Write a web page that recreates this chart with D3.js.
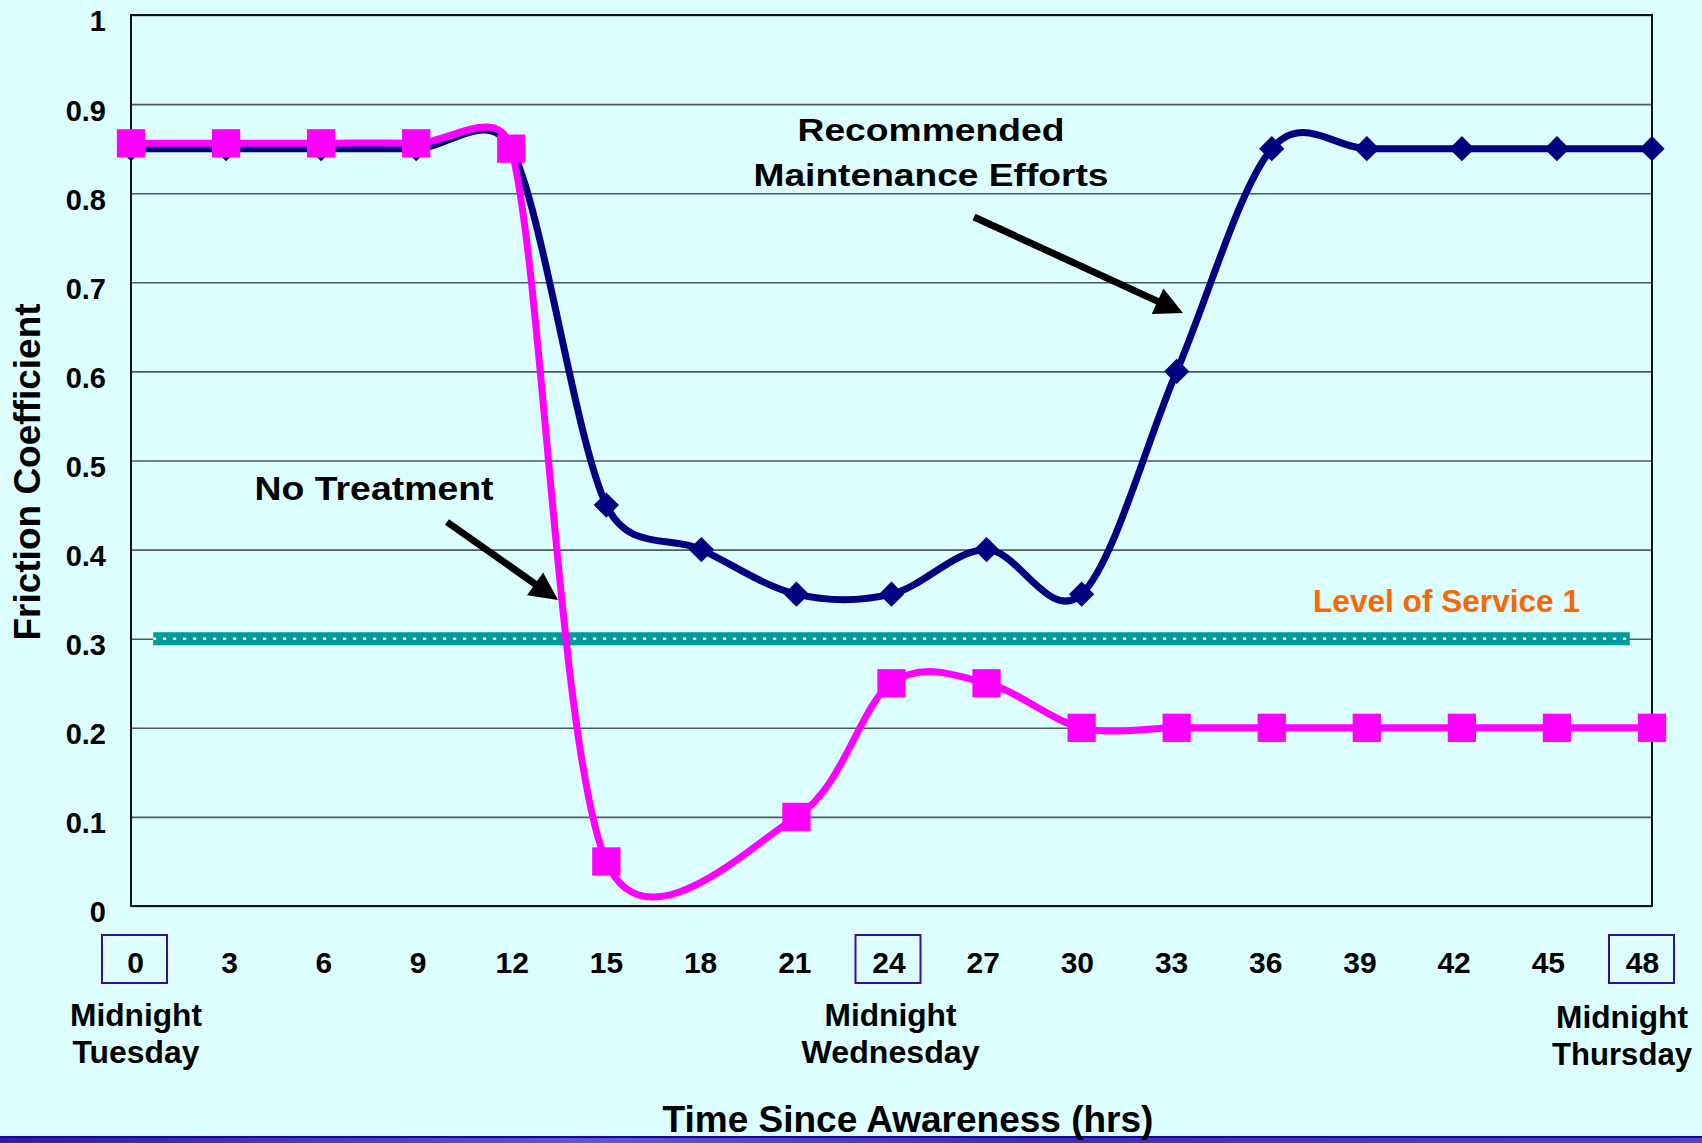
<!DOCTYPE html>
<html>
<head>
<meta charset="utf-8">
<script src="https://cdn.jsdelivr.net/npm/d3@7"></script>
<style>
  body { margin: 0; background: #dcfefe; }
  svg { display: block; font-family: "Liberation Sans", Arial, sans-serif; font-weight: bold; }
</style>
</head>
<body>
<svg id="svg" width="1702" height="1143"></svg>
<script>
/*jshint esversion: 6 */

// hours since awareness, one point every 3 hours
const hours = [0, 3, 6, 9, 12, 15, 18, 21, 24, 27, 30, 33, 36, 39, 42, 45, 48];
// "Recommended Maintenance Efforts"
const recommended = [0.85, 0.85, 0.85, 0.85, 0.85, 0.45, 0.40, 0.35, 0.35, 0.40, 0.35, 0.60, 0.85, 0.85, 0.85, 0.85, 0.85];
// "No Treatment" (no point at 18 h)
const noTreatment = [0.856, 0.856, 0.856, 0.856, 0.85, 0.05, null, 0.10, 0.25, 0.25, 0.20, 0.20, 0.20, 0.20, 0.20, 0.20, 0.20];
const yTicks = [0, 0.1, 0.2, 0.3, 0.4, 0.5, 0.6, 0.7, 0.8, 0.9, 1];
const boxedHours = [0, 24, 48];
const dayNames = ["Tuesday", "Wednesday", "Thursday"];
const serviceLevel = 0.3;
const serviceSpan = [0.7, 47.3];

const width = 1702;
const height = 1143;
const margin = {top: 15, left: 131, bottom: 237, right: 50};

const svg = d3.select("#svg");

const xScale = d3.scaleLinear().domain([0, 48]).range([margin.left, width - margin.right]);
const yScale = d3.scaleLinear().domain([0, 1]).range([height - margin.bottom, margin.top]);
// tick labels sit a touch inside the data positions in the original
const labelX = d3.scaleLinear().domain([0, 48]).range([135, 1642]);

// spreadsheet-style smoothing: bezier with tangents damped on short segments
function curveSmooth(context) {
    let pts;
    return {
        areaStart() {}, areaEnd() {},
        lineStart() { pts = []; },
        point(x, y) { pts.push([+x, +y]); },
        lineEnd() {
            const dist = (a, b) => Math.hypot(a[0] - b[0], a[1] - b[1]);
            context.moveTo(pts[0][0], pts[0][1]);
            for (let i = 0; i < pts.length - 1; i++) {
                const p0 = pts[i - 1] || pts[i], p1 = pts[i], p2 = pts[i + 1], p3 = pts[i + 2] || pts[i + 1];
                const d12 = dist(p1, p2);
                const f1 = Math.min(1 / 6, 0.5 * d12 / (dist(p0, p2) || 1));
                const f2 = Math.min(1 / 6, 0.5 * d12 / (dist(p1, p3) || 1));
                context.bezierCurveTo(
                    p1[0] + f1 * (p2[0] - p0[0]), p1[1] + f1 * (p2[1] - p0[1]),
                    p2[0] - f2 * (p3[0] - p1[0]), p2[1] - f2 * (p3[1] - p1[1]),
                    p2[0], p2[1]);
            }
        }
    };
}

// bottom slide bar
const grad = svg.append("defs").append("linearGradient").attr("id", "bar");
grad.append("stop").attr("offset", "0%").attr("stop-color", "#2c1ea0");
grad.append("stop").attr("offset", "35%").attr("stop-color", "#5a5ad0");
grad.append("stop").attr("offset", "60%").attr("stop-color", "#3b30b0");
grad.append("stop").attr("offset", "100%").attr("stop-color", "#4a48c4");
svg.append("rect").attr("x", 0).attr("y", 1136).attr("width", width).attr("height", 7).attr("fill", "url(#bar)");
svg.append("rect").attr("x", 0).attr("y", 1136).attr("width", width).attr("height", 2).attr("fill", "#2200a0");

// gridlines + y labels
const yAxis = svg.append("g")
    .attr("transform", "translate(" + margin.left + ",0)")
    .call(d3.axisLeft(yScale).tickValues(yTicks).tickFormat(d => String(d))
        .tickSize(-(width - margin.left - margin.right)).tickPadding(25));
yAxis.select(".domain").remove();
yAxis.selectAll("line").attr("stroke", "#505858").attr("stroke-width", 1.6);
yAxis.selectAll("text").attr("font-size", 29).attr("fill", "#000").attr("dy", "0.55em");

// x labels
const xAxis = svg.append("g")
    .attr("transform", "translate(0," + (height - margin.bottom) + ")")
    .call(d3.axisBottom(labelX).tickValues(hours).tickSize(0).tickPadding(46));
xAxis.select(".domain").remove();
xAxis.selectAll("text").attr("font-size", 30).attr("fill", "#000");

// frame
svg.append("rect")
    .attr("x", margin.left).attr("y", margin.top)
    .attr("width", width - margin.left - margin.right)
    .attr("height", height - margin.top - margin.bottom)
    .attr("fill", "none").attr("stroke", "#111").attr("stroke-width", 2);

// boxes around midnight hours
svg.selectAll(".box").data(boxedHours).join("rect")
    .attr("class", "box")
    .attr("x", d => labelX(d) - 33).attr("y", 935)
    .attr("width", 65).attr("height", 48)
    .attr("fill", "none").attr("stroke", "#3311a0").attr("stroke-width", 2);

// day labels
const dayG = svg.selectAll(".day").data(boxedHours).join("g")
    .attr("class", "day")
    .attr("transform", (d, i) => "translate(" + (labelX(d) + [1, 2, -20][i]) + "," + (i === 2 ? 1028 : 1026) + ")");
dayG.append("text").attr("text-anchor", "middle").attr("font-size", 31)
    .attr("textLength", 132).attr("lengthAdjust", "spacingAndGlyphs").text("Midnight");
dayG.append("text").attr("text-anchor", "middle").attr("font-size", 31).attr("y", 37)
    .attr("textLength", (d, i) => [127, 178, 140][i]).attr("lengthAdjust", "spacingAndGlyphs")
    .text((d, i) => dayNames[i]);

// level of service band
svg.append("line")
    .attr("x1", xScale(serviceSpan[0])).attr("x2", xScale(serviceSpan[1]))
    .attr("y1", yScale(serviceLevel)).attr("y2", yScale(serviceLevel))
    .attr("stroke", "#009a9a").attr("stroke-width", 13);
svg.append("line")
    .attr("x1", xScale(serviceSpan[0])).attr("x2", xScale(serviceSpan[1]))
    .attr("y1", yScale(serviceLevel)).attr("y2", yScale(serviceLevel))
    .attr("stroke", "#fff").attr("stroke-width", 2.5).attr("stroke-dasharray", "3,7");
svg.append("text")
    .attr("x", 1313).attr("y", 612).attr("font-size", 32).attr("fill", "#ff6600")
    .attr("textLength", 267).attr("lengthAdjust", "spacingAndGlyphs")
    .text("Level of Service 1");

// series
const line = d3.line()
    .x(d => xScale(d[0]))
    .y(d => yScale(d[1]))
    .curve(curveSmooth);

const blueData = hours.map((h, i) => [h, recommended[i]]);
const pinkData = hours.map((h, i) => [h, noTreatment[i]]).filter(d => d[1] !== null);

svg.append("path").datum(blueData)
    .attr("d", line).attr("fill", "none").attr("stroke", "#000080")
    .attr("stroke-width", 7).attr("stroke-linejoin", "round");
svg.selectAll(".diamond").data(blueData).join("path")
    .attr("class", "diamond")
    .attr("transform", d => "translate(" + xScale(d[0]) + "," + yScale(d[1]) + ") rotate(45)")
    .attr("d", d3.symbol(d3.symbolSquare, 320))
    .attr("fill", "#000080");

svg.append("path").datum(pinkData)
    .attr("d", line).attr("fill", "none").attr("stroke", "#ff00ff")
    .attr("stroke-width", 7).attr("stroke-linejoin", "round");
svg.selectAll(".square").data(pinkData).join("path")
    .attr("class", "square")
    .attr("transform", d => "translate(" + xScale(d[0]) + "," + yScale(d[1]) + ")")
    .attr("d", d3.symbol(d3.symbolSquare, 800))
    .attr("fill", "#ff00ff");

// annotations
function label(txt, x, y, size, len) {
    svg.append("text")
        .attr("x", x).attr("y", y).attr("font-size", size)
        .attr("text-anchor", "middle")
        .attr("textLength", len).attr("lengthAdjust", "spacingAndGlyphs")
        .text(txt);
}
label("Recommended", 931, 141, 32, 267);
label("Maintenance Efforts", 931, 186, 32, 355);
label("No Treatment", 374, 500, 34, 239);

function arrow(x1, y1, x2, y2) {
    const a = Math.atan2(y2 - y1, x2 - x1);
    const len = 28, half = 14;
    const bx = x2 - len * Math.cos(a), by = y2 - len * Math.sin(a);
    svg.append("line")
        .attr("x1", x1).attr("y1", y1).attr("x2", bx + 2 * Math.cos(a)).attr("y2", by + 2 * Math.sin(a))
        .attr("stroke", "#000").attr("stroke-width", 7);
    svg.append("polygon")
        .attr("points", [
            [x2, y2],
            [bx + half * Math.sin(a), by - half * Math.cos(a)],
            [bx - half * Math.sin(a), by + half * Math.cos(a)]
        ].map(p => p.join(",")).join(" "))
        .attr("fill", "#000");
}
arrow(974, 217, 1183, 313);
arrow(447, 522, 558, 600);

// axis titles
svg.append("text")
    .attr("x", 908).attr("y", 1132).attr("font-size", 37).attr("text-anchor", "middle")
    .text("Time Since Awareness (hrs)");
svg.append("text")
    .attr("transform", "translate(40,472) rotate(-90)")
    .attr("font-size", 37).attr("text-anchor", "middle")
    .text("Friction Coefficient");
</script>
</body>
</html>
